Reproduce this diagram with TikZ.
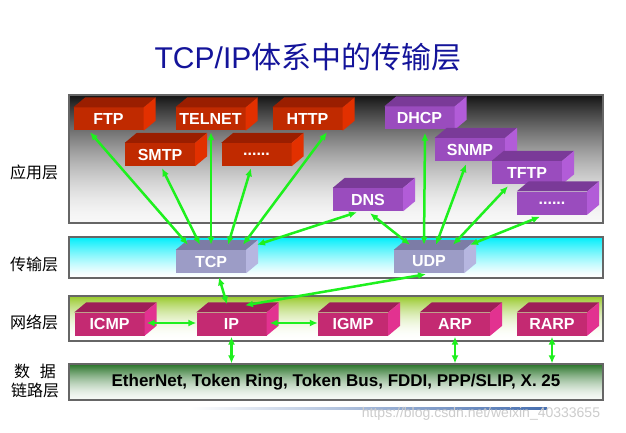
\documentclass[tikz,border=0pt]{standalone}
\usepackage{fontspec}
\setmainfont{Liberation Sans}
\newfontfamily\cjk{Noto Sans CJK SC}
\usetikzlibrary{arrows.meta,calc}
\definecolor{redF}{RGB}{192,42,0}
\definecolor{redT}{RGB}{154,30,0}
\definecolor{redS}{RGB}{226,48,0}
\definecolor{purF}{RGB}{154,76,190}
\definecolor{purT}{RGB}{122,58,152}
\definecolor{purS}{RGB}{178,92,216}
\definecolor{lavF}{RGB}{156,156,198}
\definecolor{lavT}{RGB}{124,124,166}
\definecolor{lavS}{RGB}{182,182,224}
\definecolor{magF}{RGB}{196,42,114}
\definecolor{magT}{RGB}{158,31,88}
\definecolor{magS}{RGB}{226,50,144}
\definecolor{titleC}{RGB}{20,20,154}
\definecolor{arrC}{RGB}{30,240,30}
\definecolor{netG}{RGB}{150,200,40}
\definecolor{dlG}{RGB}{40,115,40}
\definecolor{trC}{RGB}{0,238,250}
\definecolor{lineB}{RGB}{70,110,175}
\tikzset{
  blk/.style={minimum width=70pt,minimum height=23pt,inner sep=0pt,text=white,
    font=\fontsize{16}{16}\selectfont\bfseries},
  layerbox/.style={draw=black!60,line width=1.2pt,minimum width=534pt,inner sep=0pt},
  conn/.style={draw=arrC,line width=2.5pt,{Latex[length=8pt,width=7pt]}-{Latex[length=8pt,width=7pt]}},
  lbl/.style={font=\cjk\fontsize{16}{19}\selectfont,align=center}
}
\newcommand\cube[5]{%
  \node[blk,fill=#5F] (#1) at (#2,#3) {#4};
  \fill[#5T] (#1.north west) -- (#1.north east) -- ++(12,-10) -- ($(#1.north west)+(12,-10)$) -- cycle;
  \fill[#5S] (#1.north east) -- (#1.south east) -- ++(12,-10) -- ($(#1.north east)+(12,-10)$) -- cycle;
}
% #1 top y, #2 height, #3 colour, #4 min pct, #5 max pct, #6 exponent
\newcommand\gradband[6]{%
  \foreach \i in {0,...,#2}{%
    \pgfmathsetmacro\pp{#4+(#5-#4)*(1-\i/#2)^#6}%
    \fill[#3!\pp!white] (69,{#1+\i}) rectangle (603,{#1+\i+1.6});
  }%
}
\begin{document}
\begin{tikzpicture}[x=1pt,y=-1pt]
\useasboundingbox (0,0) rectangle (626,433);
\fill[white] (0,0) rectangle (626,433);
% title
\node[text=titleC,font=\fontsize{30}{30}\selectfont] (title) at (308,57) {TCP/IP{\cjk 体系中的传输层}};
% gradient fills
\gradband{95}{127}{black}{3}{92}{1.6}
\gradband{237}{40}{trC}{0}{100}{1.3}
\gradband{296}{44}{netG}{0}{100}{2}
\gradband{364}{35}{dlG}{5}{100}{1.6}
% layer boxes
\node[layerbox,minimum height=128pt] (app) at (336,159) {};
\node[layerbox,minimum height=41pt] (trans) at (336,257.5) {};
\node[layerbox,minimum height=45pt] (net) at (336,318.5) {};
\node[layerbox,minimum height=36pt,
  font=\fontsize{17}{17}\selectfont\bfseries] (DL) at (336,382) {EtherNet, Token Ring, Token Bus, FDDI, PPP/SLIP, X. 25};
% layer labels
\node[lbl] (l1) at (34,172) {应用层};
\node[lbl] (l2) at (34,264) {传输层};
\node[lbl] (l3) at (34,322) {网络层};
\node[lbl] (l4) at (35,381) {数\hspace{0.6em}据\\链路层};
% application
\cube{FTP}{108.5}{119}{FTP}{red}
\cube{TELNET}{210.5}{119}{TELNET}{red}
\cube{HTTP}{307.5}{119}{HTTP}{red}
\cube{SMTP}{160}{154.5}{SMTP}{red}
\cube{dotsA}{256.5}{154.5}{......}{red}
\cube{DHCP}{419.5}{118}{DHCP}{pur}
\cube{SNMP}{470}{149.5}{SNMP}{pur}
\cube{TFTP}{527}{172.5}{TFTP}{pur}
\cube{dotsB}{552}{203}{......}{pur}
\cube{DNS}{368}{199.5}{DNS}{pur}
% transport
\cube{TCP}{211}{261.5}{TCP}{lav}
\cube{UDP}{429}{261.5}{UDP}{lav}
% network
\cube{ICMP}{109.5}{324}{ICMP}{mag}
\cube{IP}{231.5}{324}{IP}{mag}
\cube{IGMP}{353}{324}{IGMP}{mag}
\cube{ARP}{455}{324}{ARP}{mag}
\cube{RARP}{552}{324}{RARP}{mag}
% connectors TCP
\draw[conn] ([xshift=-23pt,yshift=5pt]TCP.north) -- ([xshift=-18.5pt,yshift=-1.5pt]FTP.south);
\draw[conn] ([xshift=-11pt,yshift=5pt]TCP.north) -- ([xshift=2pt,yshift=-2pt]SMTP.south);
\draw[conn] ([xshift=0pt,yshift=5pt]TCP.north) -- ([xshift=0.5pt,yshift=-1.5pt]TELNET.south);
\draw[conn] ([xshift=17pt,yshift=5pt]TCP.north) -- ([xshift=-5.5pt,yshift=-2pt]dotsA.south);
\draw[conn] ([xshift=32pt,yshift=5pt]TCP.north) -- ([xshift=19.5pt,yshift=-1.5pt]HTTP.south);
\draw[conn] ([xshift=46pt,yshift=5pt]TCP.north) -- ([xshift=-11pt,yshift=-1pt]DNS.south);
% connectors UDP
\draw[conn] ([xshift=-19pt,yshift=5pt]UDP.north) -- ([xshift=2pt,yshift=-2pt]DNS.south);
\draw[conn] ([xshift=-5pt,yshift=5pt]UDP.north) -- ([xshift=5.5pt,yshift=-3pt]DHCP.south);
\draw[conn] ([xshift=7pt,yshift=5pt]UDP.north) -- ([xshift=-4pt,yshift=-3pt]SNMP.south);
\draw[conn] ([xshift=24pt,yshift=5pt]UDP.north) -- ([xshift=-19pt,yshift=-2pt]TFTP.south);
\draw[conn] ([xshift=41pt,yshift=5pt]UDP.north) -- ([xshift=-12pt,yshift=-2pt]dotsB.south);
% transport - network
\draw[conn] ([xshift=8pt,yshift=-4pt]TCP.south) -- ([xshift=-4.5pt,yshift=8pt]IP.north);
\draw[conn] ([xshift=-3pt,yshift=-1pt]UDP.south) -- ([xshift=13.5pt,yshift=7pt]IP.north);
% network internal
\draw[conn] ([xshift=2pt,yshift=1pt]ICMP.east) -- ([yshift=1pt]IP.west);
\draw[conn] ([xshift=3pt,yshift=1pt]IP.east) -- ([yshift=1pt]IGMP.west);
% network - datalink
\draw[conn] ([yshift=-1pt]IP.south) -- (IP.south |- DL.north);
\draw[conn] ([yshift=-1pt]ARP.south) -- (ARP.south |- DL.north);
\draw[conn] ([yshift=-1pt]RARP.south) -- (RARP.south |- DL.north);
% faint line and watermark
\shade[left color=white,right color=lineB] (190,407) rectangle (547,409.5);
\node[text=black!20,font=\fontsize{14}{14}\selectfont] (wm) at (481,414) {https://blog.csdn.net/weixin\_40333655};
\end{tikzpicture}
\end{document}
